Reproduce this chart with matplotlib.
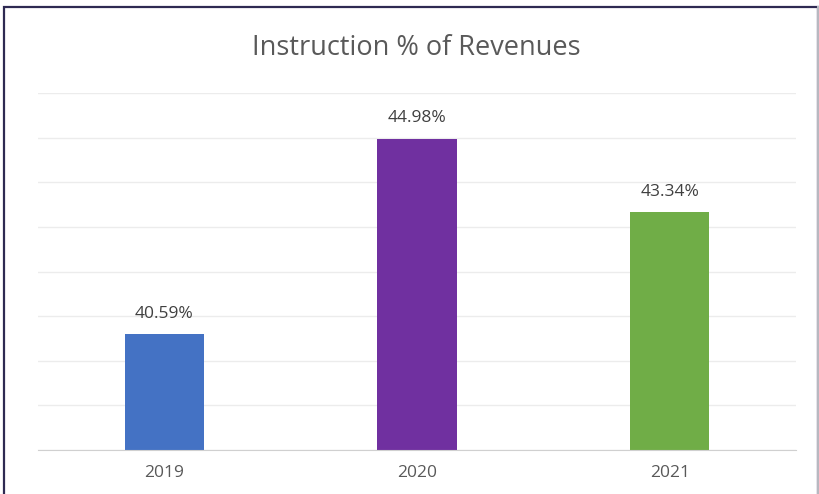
import matplotlib.pyplot as plt
from matplotlib.patches import Rectangle

years = ['2019', '2020', '2021']
values = [40.59, 44.98, 43.34]
colors = ['#4472C4', '#7030A0', '#70AD47']

plt.rcParams['font.family'] = ['Open Sans', 'DejaVu Sans']

fig = plt.figure(figsize=(8.2, 4.94), dpi=100)
W, H = 820, 494
ax = fig.add_axes([38 / W, 1 - 450 / H, (796 - 38) / W, (450 - 93) / H])

x = range(len(years))
bars = ax.bar(x, values, width=0.315, color=colors, zorder=3)
for b, v in zip(bars, values):
    ax.text(b.get_x() + b.get_width() / 2, v + 0.27, f'{v:.2f}%',
            ha='center', va='bottom', fontsize=12.5, color='#404040')

ax.set_xlim(-0.5, 2.5)
ax.set_ylim(38, 46)
ax.set_yticks(range(38, 47))
ax.set_yticklabels([])
ax.tick_params(axis='y', length=0)
ax.tick_params(axis='x', length=0, pad=11, labelsize=12.5, labelcolor='#595959')
ax.set_xticks(list(x))
ax.set_xticklabels(years)
ax.grid(axis='y', color='#ececec', linewidth=1, zorder=0)
for s in ['top', 'left', 'right']:
    ax.spines[s].set_visible(False)
ax.spines['bottom'].set_color('#d0d0d0')
ax.spines['bottom'].set_zorder(4)

fig.text(416 / W, 1 - 48 / H, 'Instruction % of Revenues', ha='center', va='center',
         fontsize=19.5, color='#595959')

# outer frame
fig.add_artist(Rectangle((4 / W, -0.05), 814 / W, (1 - 7 / H) + 0.05, transform=fig.transFigure,
                         fill=False, edgecolor='#2e2a52', linewidth=1.6))
fig.add_artist(plt.Line2D([818 / W, 818 / W], [0, 1 - 7 / H], transform=fig.transFigure,
                          color='#b8b8c0', linewidth=1.5))

fig.savefig('out.png', dpi=100)
